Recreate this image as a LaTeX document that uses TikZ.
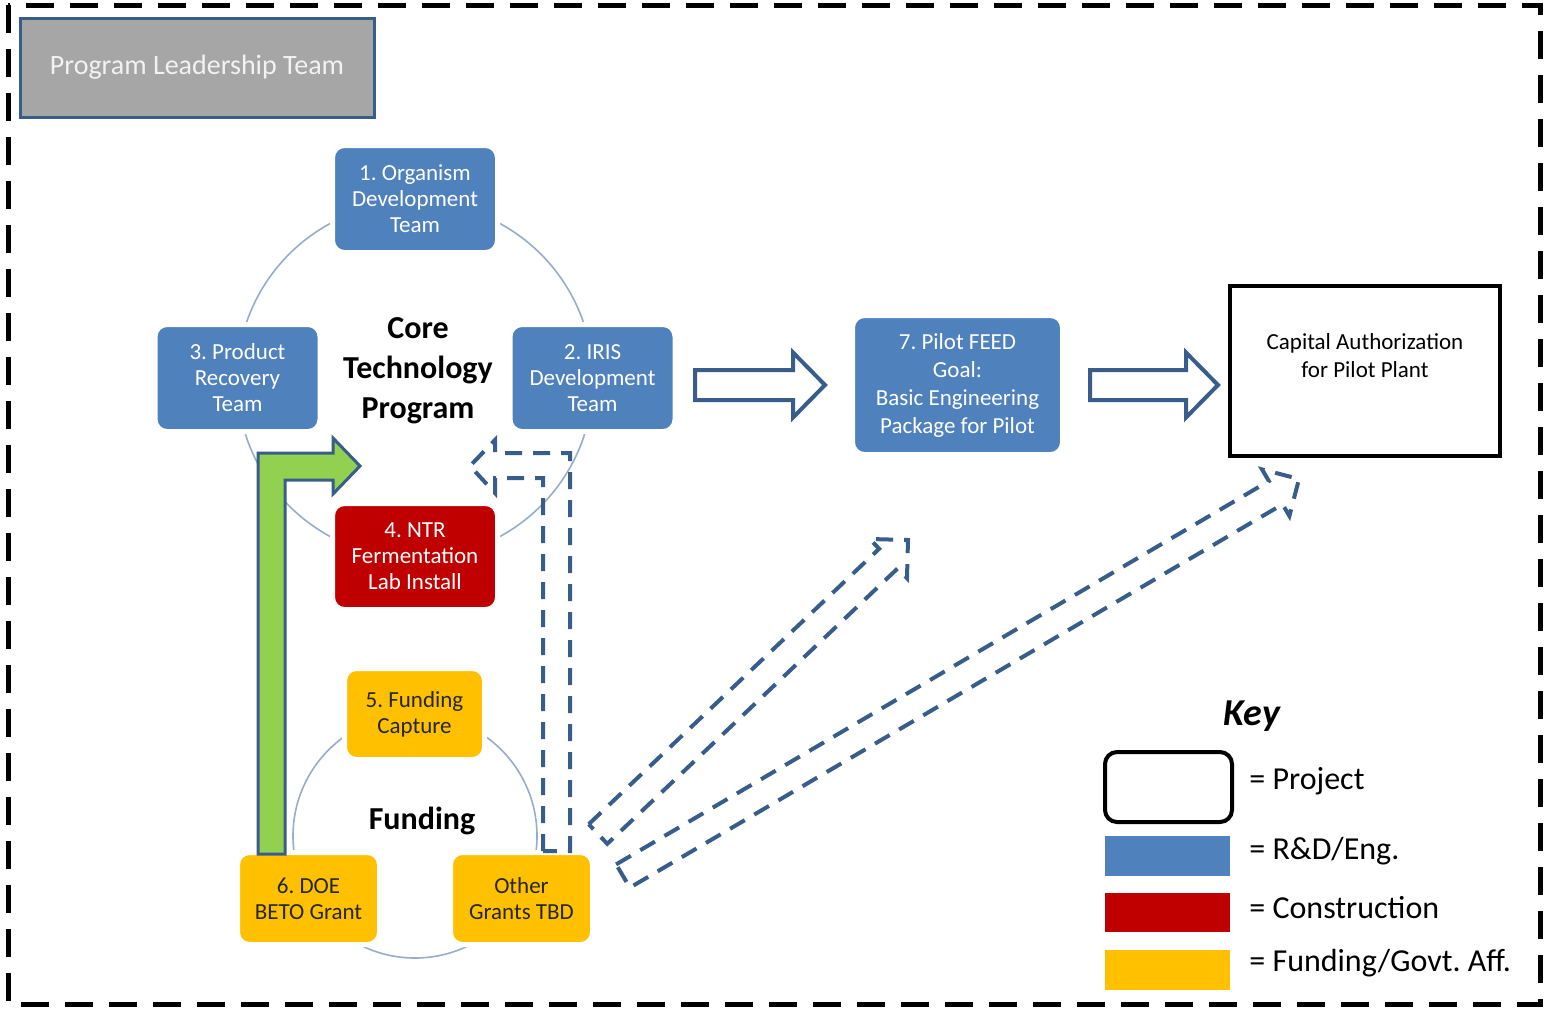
\documentclass[tikz,border=0pt]{standalone}
\usepackage{fontspec}
\setmainfont{Carlito}
\usetikzlibrary{calc}
\frenchspacing

\definecolor{rdblue}{RGB}{79,129,189}
\definecolor{edgeblue}{RGB}{56,93,138}
\definecolor{buildred}{RGB}{192,0,0}
\definecolor{fundgold}{RGB}{255,192,0}
\definecolor{leafgreen}{RGB}{146,208,80}
\definecolor{ringblue}{RGB}{150,172,205}
\definecolor{leadgray}{RGB}{166,166,166}

\tikzset{
  team/.style={rectangle, rounded corners=6pt, draw=white, line width=2.5pt,
    align=center, inner sep=0pt, font=\fontsize{11.5}{13}\selectfont},
  rnd/.style={team, fill=rdblue, text=white, minimum width=82.5pt, minimum height=53.5pt},
  build/.style={team, fill=buildred, text=white, minimum width=82.5pt, minimum height=53pt},
  fund/.style={team, fill=fundgold, text=black!85, minimum width=71pt, minimum height=46pt},
  ring/.style={draw=ringblue, line width=0.8pt},
  hub/.style={font=\bfseries\fontsize{16}{20}\selectfont, align=center},
  bigarrow/.style={draw=edgeblue, line width=2pt, fill=white},
  dasharrow/.style={draw=edgeblue, line width=2pt, dash pattern=on 8.5pt off 5.5pt},
  swatch/.style={minimum width=62.5pt, inner sep=0pt},
  keytext/.style={anchor=west, inner sep=0pt, font=\fontsize{16}{19}\selectfont}
}

% hollow block arrow: style, tail, tip, half shaft, half head, head length
\newcommand{\blockarrow}[6]{%
  \coordinate (ba-c) at ($(#3)!#6!(#2)$);
  \draw[#1] ($(#2)!#4!90:(#3)$) -- ($(ba-c)!#4!90:(#3)$) -- ($(ba-c)!#5!90:(#3)$)
    -- (#3) -- ($(ba-c)!#5!-90:(#3)$) -- ($(ba-c)!#4!-90:(#3)$)
    -- ($(#2)!#4!-90:(#3)$) -- cycle;
}

\begin{document}
\begin{tikzpicture}[x=0.5pt, y=-0.5pt]
  \useasboundingbox (0,0) rectangle (1544,1014);
  % Frame
  \draw[line width=2.5pt, dash pattern=on 14pt off 8pt] (8,5) rectangle (1540,1004);
  \node[draw=edgeblue, line width=1.5pt, fill=leadgray, text=white!95!black,
    minimum width=177pt, minimum height=49.5pt, font=\fontsize{14}{16}\selectfont]
    (lead) at (197,67.5) {Program Leadership Team};
  % Rings
  \draw[ring] (415,380) circle [radius=89pt];
  \draw[ring] (415,836) circle [radius=61pt];
  % Core Technology Program
  \node[rnd] (organism) at (415,199) {1. Organism\\Development\\Team};
  \node[rnd] (recovery) at (237.5,378) {3. Product\\Recovery\\Team};
  \node[rnd] (iris) at (592.5,378) {2. IRIS\\Development\\Team};
  \node[hub] (core) at (418,371) {Core\\Technology\\Program};
  \node[build] (ntr) at (415,556.5) {4. NTR\\Fermentation\\Lab Install};
  % Funding
  \node[fund, minimum width=70pt, minimum height=45.5pt] (capture) at (414.5,714) {5. Funding\\Capture};
  \node[fund] (doe) at (308.5,898.5) {6. DOE\\BETO Grant};
  \node[fund] (other) at (521.5,898.5) {Other\\Grants TBD};
  \node[hub] (funding) at (422,821) {Funding};
  % Funding into the core program
  \draw[draw=edgeblue, line width=1.5pt, fill=leafgreen] (258,854) -- (258,453) -- (333,453)
    -- (333,438) -- (360,466) -- (333,494) -- (333,480) -- (285,480) -- (285,854) -- cycle;
  \draw[dasharrow] (543,851) -- (543,478) -- (495,478) -- (495,493) -- (470,466)
    -- (495,440) -- (495,453) -- (570,453) -- (570,851) -- cycle;
  % Pilot
  \node[team, fill=rdblue, text=white, minimum width=105pt, minimum height=69.5pt,
    font=\fontsize{11.5}{14}\selectfont] (feed) at (957.5,385)
    {7. Pilot FEED\\Goal:\\Basic Engineering\\Package for Pilot};
  \node[draw=black, line width=2pt, minimum width=135pt, minimum height=85pt] (capital) at (1365,371) {};
  \node[align=center, font=\fontsize{11.5}{14}\selectfont] (captext) at (1365,356)
    {Capital Authorization\\for Pilot Plant};
  % Big arrows
  \coordinate (feedin-a) at (695,385);
  \coordinate (feedin-b) at (825,385);
  \blockarrow{bigarrow}{feedin-a}{feedin-b}{7.5pt}{16.25pt}{16pt}
  \coordinate (capin-a) at (1090,385);
  \coordinate (capin-b) at (1218,385);
  \blockarrow{bigarrow}{capin-a}{capin-b}{7.5pt}{16.25pt}{16pt}
  \coordinate (grant-a) at (598,834);
  \coordinate (grant-b) at (908,540);
  \blockarrow{dasharrow}{grant-a}{grant-b}{6.75pt}{13.5pt}{13.5pt}
  \coordinate (grant-c) at (623,876);
  \coordinate (grant-d) at (1299,479);
  \blockarrow{dasharrow}{grant-c}{grant-d}{6.75pt}{13.5pt}{13.5pt}
  % Key
  \node[font=\bfseries\itshape\fontsize{19}{22}\selectfont] (key) at (1252,716) {Key};
  \node[draw=black, line width=2pt, rounded corners=6pt, minimum width=63.5pt,
    minimum height=35pt] (keyproj) at (1168.5,787) {};
  \node[swatch, fill=rdblue, minimum height=20pt] (keyrnd) at (1167.5,856) {};
  \node[swatch, fill=buildred, minimum height=19.5pt] (keybuild) at (1167.5,912.5) {};
  \node[swatch, fill=fundgold, minimum height=20pt] (keyfund) at (1167.5,970) {};
  \node[keytext] (keyproj-t) at (1249,781) {= Project};
  \node[keytext] (keyrnd-t) at (1249,851) {= R\&D/Eng.};
  \node[keytext] (keybuild-t) at (1249,908) {= Construction};
  \node[keytext] (keyfund-t) at (1249,963) {= Funding/Govt. Aff.};
\end{tikzpicture}
\end{document}
